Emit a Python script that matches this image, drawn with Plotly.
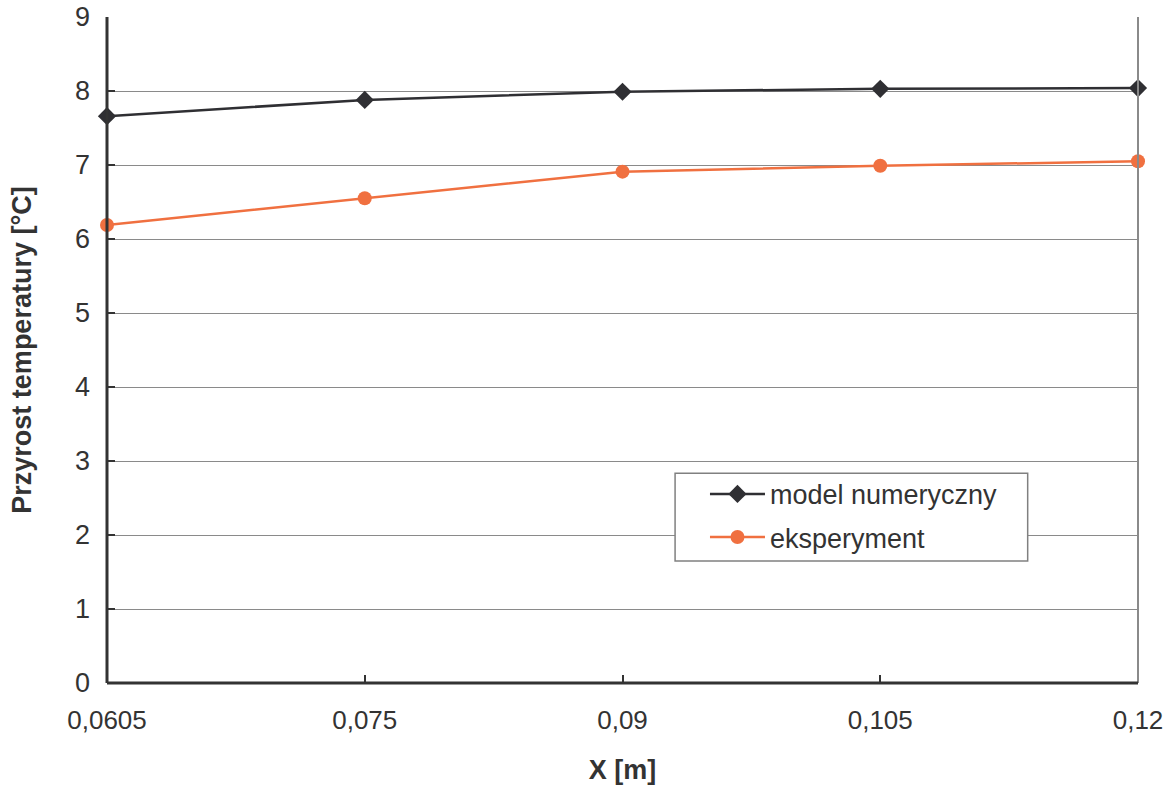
import plotly.graph_objects as go

# Measurement positions along X and temperature rise for both series
x_labels = ["0,0605", "0,075", "0,09", "0,105", "0,12"]
model_numeryczny = [7.66, 7.88, 7.99, 8.03, 8.04]
eksperyment = [6.19, 6.55, 6.91, 6.99, 7.05]
y_ticks = [0, 1, 2, 3, 4, 5, 6, 7, 8, 9]

pos = list(range(len(x_labels)))
FONT = "Liberation Sans, Arial, sans-serif"
TEXT = "#333333"

fig = go.Figure()
fig.add_trace(go.Scatter(
    x=pos, y=model_numeryczny, name="model numeryczny",
    mode="lines+markers", legendgroup="a",
    line=dict(color="#2f2f33", width=2.5),
    marker=dict(symbol="diamond", size=14, color="#2f2f33"),
    cliponaxis=False,
))
fig.add_trace(go.Scatter(
    x=pos, y=eksperyment, name="eksperyment",
    mode="lines+markers", legendgroup="b",
    line=dict(color="#f07040", width=2.5),
    marker=dict(symbol="circle", size=14, color="#f07040"),
    cliponaxis=False,
))

fig.update_layout(
    width=1172, height=785,
    margin=dict(l=107, r=34, t=17, b=102),
    paper_bgcolor="white", plot_bgcolor="white",
    font=dict(family=FONT, size=26, color=TEXT),
    showlegend=True,
    legend=dict(
        x=0.580, y=0.320, xanchor="left", yanchor="top",
        bgcolor="rgba(0,0,0,0)", borderwidth=0,
        font=dict(size=27, color=TEXT),
        itemwidth=55,
        traceorder="grouped", tracegroupgap=5,
    ),
    xaxis=dict(
        range=[0, 4], automargin=False,
        tickmode="array", tickvals=pos, ticktext=x_labels,
        showgrid=False, zeroline=False, showline=False,
        ticks="inside", ticklen=8, tickwidth=2, tickcolor=TEXT,
        ticklabelstandoff=19,
        tickfont=dict(size=26, color=TEXT),
        title=dict(text="<b>X [m]</b>", font=dict(size=27, color=TEXT), standoff=32),
    ),
    yaxis=dict(
        range=[0, 9], automargin=False,
        tickmode="array", tickvals=y_ticks,
        showgrid=True, gridcolor="#8a8a8a", gridwidth=1,
        zeroline=False, showline=False,
        ticks="inside", ticklen=8, tickwidth=2, tickcolor=TEXT,
        ticklabelstandoff=16,
        tickfont=dict(size=27, color=TEXT),
        title=dict(text="<b>Przyrost temperatury [°C]</b>", font=dict(size=27, color=TEXT), standoff=35),
    ),
    shapes=[
        # legend frame
        dict(type="rect", xref="x domain", yref="y domain",
             x0=0.551, x1=0.893, y0=0.183, y1=0.315,
             fillcolor="white", line=dict(color="#808080", width=1.5), layer="above"),
        # right border of the plot area
        dict(type="line", xref="x domain", yref="y domain", x0=1, x1=1, y0=0, y1=1,
             line=dict(color="#8a8a8a", width=2)),
        # left and bottom axis lines
        dict(type="line", xref="x domain", yref="y domain", x0=0, x1=0, y0=0, y1=1,
             line=dict(color=TEXT, width=3)),
        dict(type="line", xref="x domain", yref="y domain", x0=0, x1=1, y0=0, y1=0,
             line=dict(color=TEXT, width=3)),
    ],
)

fig.write_html("out.html")
